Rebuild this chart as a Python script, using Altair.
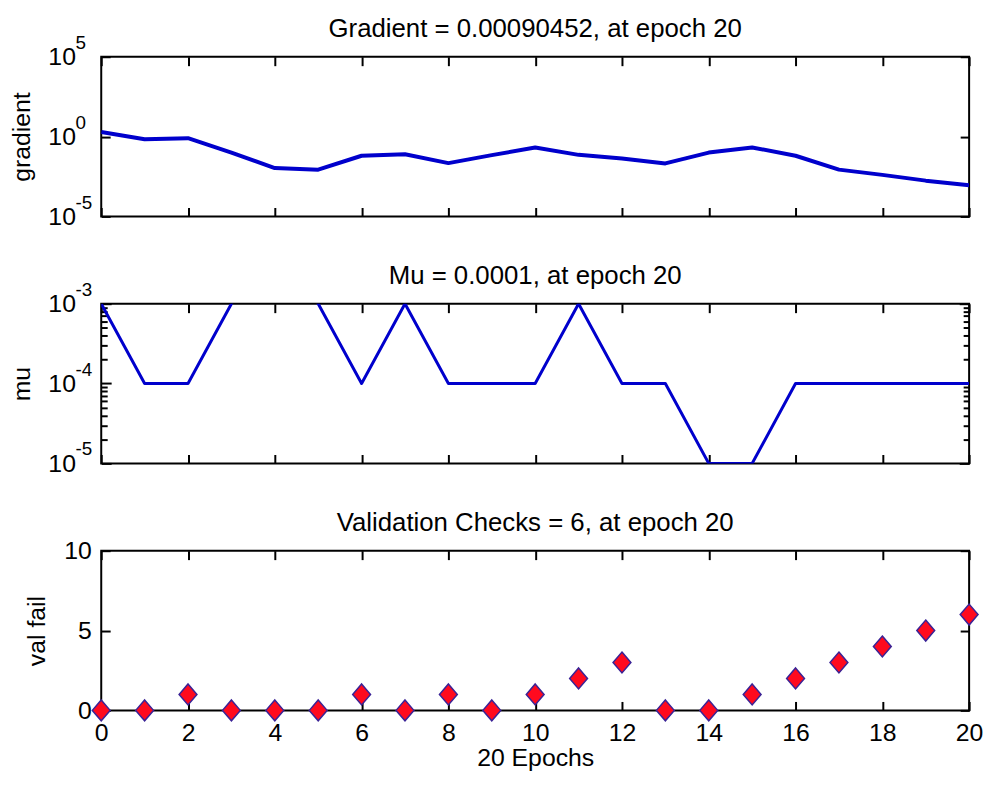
import altair as alt
import pandas as pd

# ---------------- data ----------------
epochs = list(range(21))
gradient = [1.95, 0.676, 0.794, 0.1, 0.0107, 0.0085, 0.063, 0.079, 0.0219, 0.069,
            0.209, 0.072, 0.0427, 0.0209, 0.1, 0.209, 0.063, 0.0085, 0.004, 0.00174,
            0.00090452]
mu = [1e-3, 1e-4, 1e-4, 1e-3, 1e-2, 1e-3, 1e-4, 1e-3, 1e-4, 1e-4,
      1e-4, 1e-3, 1e-4, 1e-4, 1e-5, 1e-5, 1e-4, 1e-4, 1e-4, 1e-4, 1e-4]
val_fail = [0, 0, 1, 0, 0, 0, 1, 0, 1, 0, 1, 2, 3, 0, 0, 1, 2, 3, 4, 5, 6]

titles = ["Gradient = 0.00090452, at epoch 20",
          "Mu = 0.0001, at epoch 20",
          "Validation Checks = 6, at epoch 20"]
y_titles = ["gradient", "mu", "val fail"]
x_title = "20 Epochs"

epoch_ticks = list(range(0, 21, 2))
grad_ticks = [1e-5, 1e0, 1e5]
grad_exponents = ["-5", "0", "5"]
mu_major = [1e-5, 1e-4, 1e-3]
mu_exponents = ["-5", "-4", "-3"]
mu_minor = [2e-5, 3e-5, 4e-5, 5e-5, 6e-5, 7e-5, 8e-5, 9e-5,
            2e-4, 3e-4, 4e-4, 5e-4, 6e-4, 7e-4, 8e-4, 9e-4]
val_ticks = [0, 5, 10]

df = pd.DataFrame({"epoch": epochs, "gradient": gradient, "mu": mu, "val_fail": val_fail})
grad_exp_df = pd.DataFrame({"value": grad_ticks, "exp": grad_exponents})
mu_exp_df = pd.DataFrame({"value": mu_major, "exp": mu_exponents})

FONT = "Liberation Sans"
BLUE = "#0000cc"
W, H = 875, 161


def label_expr(vals, text):
    expr = "''"
    for v in vals:
        expr = f"abs(datum.value - {v!r}) <= {abs(v) * 1e-6!r} ? '{text}' : ({expr})"
    return expr


common = dict(domain=False, grid=False, tickColor="black", tickWidth=2,
              labelFont=FONT, labelFontSize=25, labelColor="black",
              titleFont=FONT, titleFontSize=25, titleFontWeight="normal", titleColor="black",
              minExtent=0)


def x_axis(orient, labels=False, title=None):
    kw = dict(common)
    kw.update(orient=orient, values=epoch_ticks, tickSize={"expr": "-9"}, labels=labels)
    if labels:
        kw.update(labelFlush=False, labelPadding=19, labelOverlap=False, labelAngle=0)
    if title:
        kw.update(title=title, titlePadding=1)
    else:
        kw.update(title=None)
    return alt.Axis(**kw)


def y_axis(orient, values, size_expr, labels=False, lexpr=None, title=None, pad=20):
    kw = dict(common)
    kw.update(orient=orient, values=values, tickSize={"expr": size_expr}, labels=labels)
    if labels:
        kw.update(labelPadding=pad, labelFlush=False, labelOverlap=False, labelBaseline="middle")
        if lexpr:
            kw.update(labelExpr=lexpr)
    if title:
        kw.update(title=title, titlePadding=14)
    else:
        kw.update(title=None)
    return alt.Axis(**kw)


xscale = alt.Scale(domain=[0, 20], nice=False, zero=False)


def title_layer(text):
    return alt.Chart(pd.DataFrame({"title": [text]})).mark_text(
        font=FONT, fontSize=26, align="center", baseline="alphabetic", color="black", clip=False,
    ).encode(x=alt.value(W / 2), y=alt.value(-20), text="title:N")


def exponent_layer(exp_df, yscale):
    return alt.Chart(exp_df).mark_text(
        font=FONT, fontSize=19, align="left", baseline="alphabetic", color="black",
        dx=0, dy=-8, clip=False,
    ).encode(
        x=alt.value(-26),
        y=alt.Y("value:Q", scale=yscale, axis=None),
        text="exp:N",
    )


# ---------------- panel 1: gradient ----------------
gscale = alt.Scale(type="log", domain=[1e-5, 1e5], nice=False)
g_main = alt.Chart(df).mark_line(color=BLUE, strokeWidth=4, clip=True, strokeJoin="round").encode(
    x=alt.X("epoch:Q", scale=xscale, axis=x_axis("bottom")),
    y=alt.Y("gradient:Q", scale=gscale,
            axis=y_axis("left", grad_ticks, "-9", labels=True,
                        lexpr=label_expr(grad_ticks, "10"), title=y_titles[0], pad=35)),
)
g_ghost = alt.Chart(df).mark_line(opacity=0, clip=True).encode(
    x=alt.X("epoch:Q", scale=xscale, axis=x_axis("top")),
    y=alt.Y("gradient:Q", scale=gscale, axis=y_axis("right", grad_ticks, "-9")),
)
p1 = alt.layer(g_main, g_ghost, exponent_layer(grad_exp_df, gscale), title_layer(titles[0])).resolve_axis(
    x="independent", y="independent").properties(width=W, height=H)

# ---------------- panel 2: mu ----------------
mscale = alt.Scale(type="log", domain=[1e-5, 1e-3], nice=False)
mu_vals = sorted(mu_major + mu_minor)
mu_size = "abs(log(datum.value)/LN10 - round(log(datum.value)/LN10)) < 0.001 ? -10 : -6"
m_main = alt.Chart(df).mark_line(color=BLUE, strokeWidth=3, clip=True, strokeJoin="round").encode(
    x=alt.X("epoch:Q", scale=xscale, axis=x_axis("bottom")),
    y=alt.Y("mu:Q", scale=mscale,
            axis=y_axis("left", mu_vals, mu_size, labels=True,
                        lexpr=label_expr(mu_major, "10"), title=y_titles[1], pad=36)),
)
m_ghost = alt.Chart(df).mark_line(opacity=0, clip=True).encode(
    x=alt.X("epoch:Q", scale=xscale, axis=x_axis("top")),
    y=alt.Y("mu:Q", scale=mscale, axis=y_axis("right", mu_vals, mu_size)),
)
p2 = alt.layer(m_main, m_ghost, exponent_layer(mu_exp_df, mscale), title_layer(titles[1])).resolve_axis(
    x="independent", y="independent").properties(width=W, height=H)

# ---------------- panel 3: validation checks ----------------
vscale = alt.Scale(domain=[0, 10], nice=False)
diamond = "M0,-1.17L1,0L0,1.17L-1,0Z"
v_main = alt.Chart(df).mark_point(shape=diamond, filled=True, fill="#ff0a1e", stroke="#3a2396",
                                  strokeWidth=1.5, size=324, opacity=1).encode(
    x=alt.X("epoch:Q", scale=xscale, axis=x_axis("bottom", labels=True, title=x_title)),
    y=alt.Y("val_fail:Q", scale=vscale,
            axis=y_axis("left", val_ticks, "-9", labels=True, title=y_titles[2], pad=19)),
)
v_ghost = alt.Chart(df).mark_point(opacity=0).encode(
    x=alt.X("epoch:Q", scale=xscale, axis=x_axis("top")),
    y=alt.Y("val_fail:Q", scale=vscale, axis=y_axis("right", val_ticks, "-9")),
)
p3 = alt.layer(v_main, v_ghost, title_layer(titles[2])).resolve_axis(
    x="independent", y="independent").properties(width=W, height=H)

chart = alt.vconcat(p1, p2, p3, spacing=32).properties(
    padding={"left": 0, "top": 4, "right": 0, "bottom": 0},
    background="white",
).configure_view(stroke="black", strokeWidth=2)

chart.save("out.html", embed_options={"renderer": "svg", "actions": False})
